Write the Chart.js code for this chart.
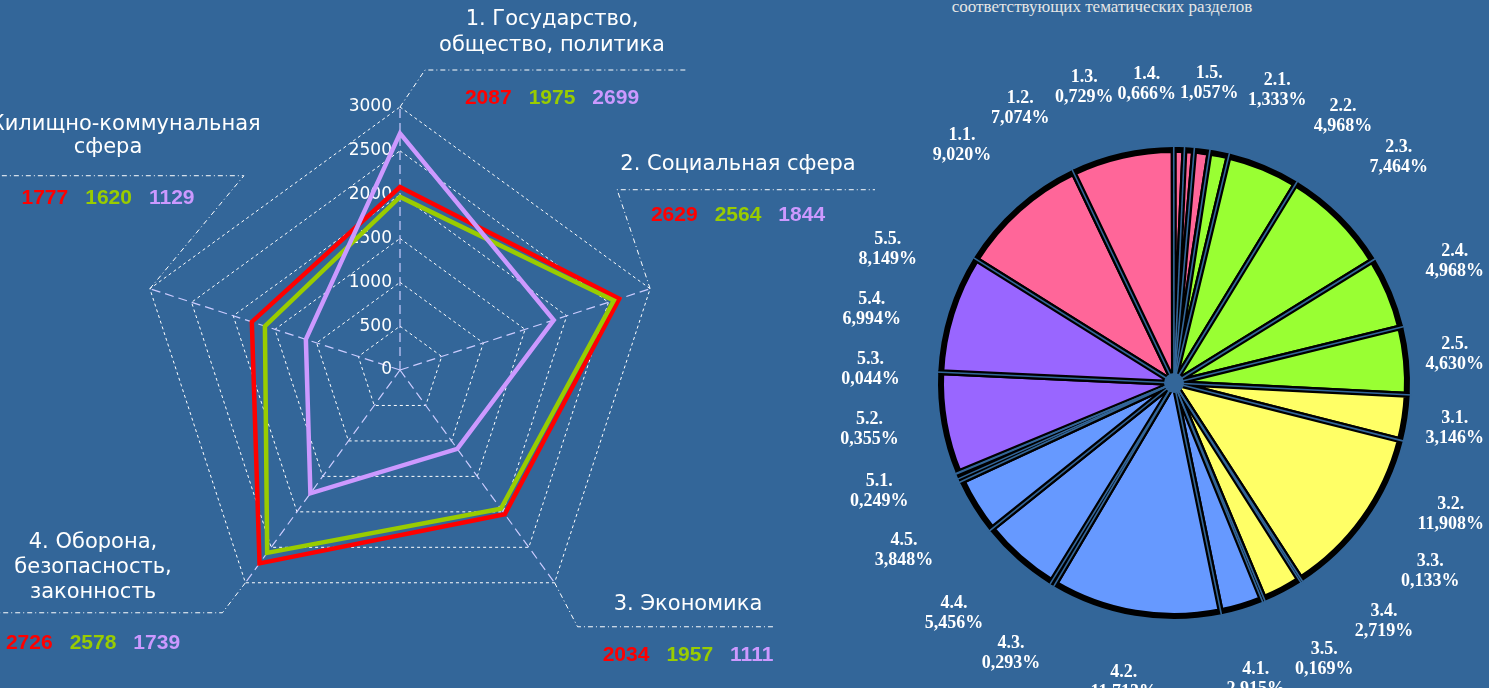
<!DOCTYPE html>
<html lang="ru">
<head>
<meta charset="UTF-8">
<title>Тематические разделы</title>
<script src="https://cdn.jsdelivr.net/npm/chart.js@4.4.0/dist/chart.umd.min.js"></script>
<style>
  body { margin: 0; background: #336699; width: 1489px; height: 688px; overflow: hidden; position: relative; }
  #radarBox { position: absolute; left: 0; top: 0; width: 900px; height: 688px; }
  #pieBox { position: absolute; left: 830px; top: 0; width: 659px; height: 688px; }
  #pieTitle {
    position: absolute; left: 900px; width: 404px; top: -2px; text-align: center;
    font: 17px "Liberation Serif", "Times New Roman", serif; line-height: 17px; color: #e6e6e6;
  }
</style>
</head>
<body>
<div id="radarBox"><canvas id="radar"></canvas></div>
<div id="pieTitle">соответствующих тематических разделов</div>
<div id="pieBox"><canvas id="pie"></canvas></div>
<script>
// radar data
const radarAxes = [
  ['1. Государство,', 'общество, политика'],
  ['2. Социальная сфера'],
  ['3. Экономика'],
  ['4. Оборона,', 'безопасность,', 'законность'],
  ['5. Жилищно-коммунальная', 'сфера']
];
const seriesRed = [2087, 2629, 2034, 2726, 1777];
const seriesGreen = [1975, 2564, 1957, 2578, 1620];
const seriesPurple = [2699, 1844, 1111, 1739, 1129];
const radarMax = 3000;
const radarStep = 500;

// pie data
const pieLabels = ['1.1.', '1.2.', '1.3.', '1.4.', '1.5.',
  '2.1.', '2.2.', '2.3.', '2.4.', '2.5.',
  '3.1.', '3.2.', '3.3.', '3.4.', '3.5.',
  '4.1.', '4.2.', '4.3.', '4.4.', '4.5.',
  '5.1.', '5.2.', '5.3.', '5.4.', '5.5.'];
const pieValues = [9.020, 7.074, 0.729, 0.666, 1.057,
  1.333, 4.968, 7.464, 4.968, 4.630,
  3.146, 11.908, 0.133, 2.719, 0.169,
  2.915, 11.713, 0.293, 5.456, 3.848,
  0.249, 0.355, 0.044, 6.994, 8.149];

const BG = '#336699';
const RED = '#ff0000', GREEN = '#99cc00', PURPLE = '#cc99ff';
const groupColors = { '1': '#ff6699', '2': '#99ff33', '3': '#ffff66', '4': '#6699ff', '5': '#9966ff' };
const seriesColors = [RED, GREEN, PURPLE];
const seriesAll = [seriesRed, seriesGreen, seriesPurple];

// where the callouts for each axis go (relative to the outer vertex)
const callouts = [
  { bend: [25, -37], endX: 688, cx: 552, ty: [20, 46], vy: 98 },
  { bend: [-33, -99], endX: 875, cx: 738, ty: [165], vy: 215 },
  { bend: [23, 44], endX: 775, cx: 688, ty: [605], vy: 655 },
  { bend: [-23, 30], endX: 0, cx: 93, ty: [543, 568, 593], vy: 643 },
  { bend: [94, -113], endX: 0, cx: 108, ty: [125, 148], vy: 198 }
];

const radarDeco = {
  id: 'radarDeco',
  beforeDatasetsDraw(chart) {
    const r = chart.scales.r, ctx = chart.ctx;
    ctx.save();
    ctx.font = '17px "DejaVu Sans", sans-serif';
    ctx.fillStyle = '#ffffff';
    ctx.textAlign = 'right';
    ctx.textBaseline = 'middle';
    r.ticks.forEach(t => {
      const p = r.getPointPositionForValue(0, t.value);
      ctx.fillText(String(t.value), r.xCenter - 8, p.y);
    });
    ctx.restore();
  },
  afterDraw(chart) {
    const r = chart.scales.r, ctx = chart.ctx;
    ctx.save();
    callouts.forEach((c, i) => {
      const v = r.getPointPositionForValue(i, radarMax);
      const bx = v.x + c.bend[0], by = v.y + c.bend[1];
      ctx.strokeStyle = '#ffffff';
      ctx.lineWidth = 1;
      ctx.setLineDash([5, 3, 1, 3]);
      ctx.beginPath();
      ctx.moveTo(v.x, v.y);
      ctx.lineTo(bx, by);
      ctx.lineTo(c.endX, by);
      ctx.stroke();
      ctx.setLineDash([]);

      ctx.fillStyle = '#ffffff';
      ctx.font = '21px "DejaVu Sans", sans-serif';
      ctx.textAlign = 'center';
      ctx.textBaseline = 'middle';
      radarAxes[i].forEach((line, k) => ctx.fillText(line, c.cx, c.ty[k]));

      ctx.font = 'bold 21px "Liberation Sans Narrow", "Liberation Sans", sans-serif';
      const nums = seriesAll.map(s => String(s[i]));
      const gap = 17;
      const widths = nums.map(n => ctx.measureText(n).width);
      let x = c.cx - (widths.reduce((a, b) => a + b, 0) + gap * 2) / 2;
      ctx.textAlign = 'left';
      nums.forEach((n, k) => {
        ctx.fillStyle = seriesColors[k];
        ctx.fillText(n, x, c.vy);
        x += widths[k] + gap;
      });
    });
    ctx.restore();
  }
};

new Chart(document.getElementById('radar'), {
  type: 'radar',
  data: {
    labels: radarAxes.map(a => a.join(' ')),
    datasets: [
      { data: seriesRed, borderColor: RED, order: 3 },
      { data: seriesGreen, borderColor: GREEN, order: 2 },
      { data: seriesPurple, borderColor: PURPLE, order: 1 }
    ]
  },
  options: {
    responsive: true,
    maintainAspectRatio: false,
    animation: false,
    layout: { padding: { left: 137, right: 237, top: 107, bottom: 55 } },
    elements: {
      line: { borderWidth: 4.5, fill: false, tension: 0, borderJoinStyle: 'miter' },
      point: { radius: 0 }
    },
    plugins: { legend: { display: false }, tooltip: { enabled: false } },
    scales: {
      r: {
        min: 0, max: radarMax,
        ticks: { stepSize: radarStep, display: false },
        pointLabels: { display: false },
        grid: { color: '#ffffff', lineWidth: 1 },
        border: { dash: [3, 3] },
        angleLines: { color: '#ccccff', lineWidth: 1.2, borderDash: [9, 5] }
      }
    }
  },
  plugins: [radarDeco]
});

// blue slits between slices and the small hole in the middle
const pieSlits = {
  id: 'pieSlits',
  afterDatasetsDraw(chart) {
    const ctx = chart.ctx;
    const arcs = chart.getDatasetMeta(0).data;
    ctx.save();
    ctx.strokeStyle = BG;
    ctx.lineWidth = 1.6;
    arcs.forEach(a => {
      const r = a.outerRadius + 5;
      ctx.beginPath();
      ctx.moveTo(a.x, a.y);
      ctx.lineTo(a.x + Math.cos(a.startAngle) * r, a.y + Math.sin(a.startAngle) * r);
      ctx.stroke();
    });
    ctx.fillStyle = BG;
    ctx.beginPath();
    ctx.arc(arcs[0].x, arcs[0].y, 10, 0, Math.PI * 2);
    ctx.fill();
    ctx.restore();
  }
};

// labels: start at slice middles, then spread apart (mostly towards the sides) so they don't overlap
const pieLabelPlugin = {
  id: 'pieLabels',
  afterDraw(chart) {
    const ctx = chart.ctx;
    const arcs = chart.getDatasetMeta(0).data;
    const cx = arcs[0].x, cy = arcs[0].y;
    const n = arcs.length;
    const deg = 180 / Math.PI;
    let ang = arcs.map(a => ((a.startAngle + a.endAngle) / 2) * deg + 90);
    for (let i = 1; i < n; i++) while (ang[i] < ang[i - 1]) ang[i] += 360;
    const sepAt = t => {
      const rr = t / deg;
      return Math.hypot(70 * Math.cos(rr), 58 * Math.sin(rr)) / 300 * deg;
    };
    for (let it = 0; it < 1500; it++) {
      for (let i = 0; i < n; i++) {
        const j = (i + 1) % n;
        const aj = j === 0 ? ang[0] + 360 : ang[j];
        const d = aj - ang[i];
        const mid = (aj + ang[i]) / 2;
        const need = sepAt(mid);
        if (d < need) {
          const m = need - d;
          const s = Math.max(-1, Math.min(1, 2 * Math.sin(mid / deg)));
          const wi = 0.5 + 0.5 * s;
          ang[i] -= m * wi;
          ang[j] += m * (1 - wi);
        }
      }
    }
    ctx.save();
    ctx.fillStyle = '#ffffff';
    ctx.font = 'bold 18px "Liberation Serif", "Times New Roman", serif';
    ctx.textAlign = 'center';
    ctx.textBaseline = 'middle';
    ang.forEach((t, i) => {
      const rr = t / deg;
      const rad = 252 + 50 * Math.abs(Math.sin(rr)) + 44 * Math.abs(Math.cos(rr));
      const pct = pieValues[i].toFixed(3).replace('.', ',') + '%';
      const w = ctx.measureText(pct).width;
      let x = cx + Math.sin(rr) * rad;
      const y = cy - Math.cos(rr) * rad;
      x = Math.min(x, chart.width - 5 - w / 2);
      ctx.fillText(pieLabels[i], x, y - 10);
      ctx.fillText(pct, x, y + 10);
    });
    ctx.restore();
  }
};

new Chart(document.getElementById('pie'), {
  type: 'pie',
  data: {
    labels: pieLabels,
    datasets: [{
      data: pieValues,
      backgroundColor: pieLabels.map(l => groupColors[l[0]]),
      borderColor: '#000000',
      borderWidth: 6,
      borderJoinStyle: 'round'
    }]
  },
  options: {
    responsive: true,
    maintainAspectRatio: false,
    animation: false,
    rotation: -58,
    radius: 233,
    layout: { padding: { left: 29, right: 0, top: 78, bottom: 0 } },
    plugins: { legend: { display: false }, tooltip: { enabled: false } }
  },
  plugins: [pieSlits, pieLabelPlugin]
});
</script>
</body>
</html>
